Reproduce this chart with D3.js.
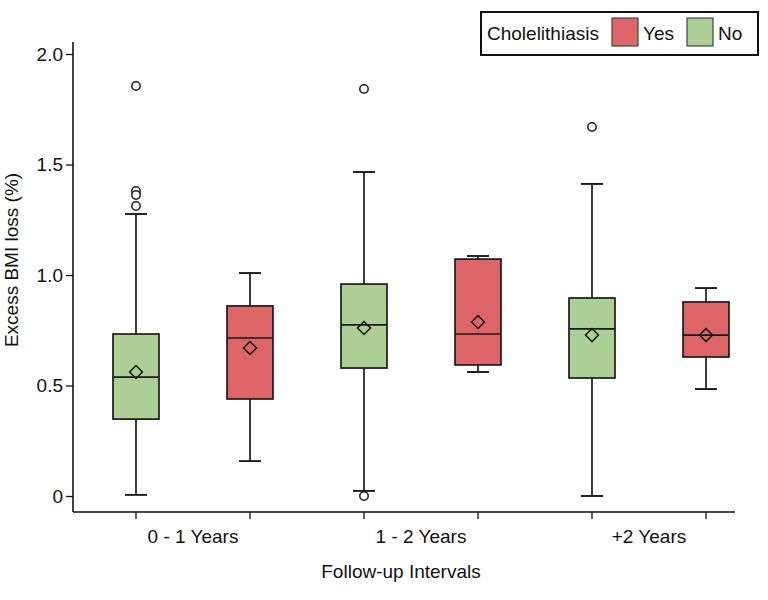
<!DOCTYPE html>
<html>
<head>
<meta charset="utf-8">
<script src="https://cdn.jsdelivr.net/npm/d3@7"></script>
<style>
  body { margin: 0; background: #fff; }
  text { font-family: "Liberation Sans", Arial, sans-serif; fill: #111; }
</style>
</head>
<body>
<div id="chart"></div>
<script>
// follow-up groups and cholelithiasis status (No drawn first)
const groups = ['0 - 1 Years', '1 - 2 Years', '+2 Years'];
const statuses = ['No', 'Yes'];
const legendOrder = ['Yes', 'No'];

// box stats, one entry per group, order of groups above
const noLow = [0.005, 0.023, 0.0];
const noQ1 = [0.348, 0.579, 0.534];
const noMedian = [0.538, 0.774, 0.756];
const noQ3 = [0.733, 0.959, 0.896];
const noHigh = [1.276, 1.466, 1.412];
const noMean = [0.561, 0.760, 0.728];
const noOutliers = [[1.855, 1.380, 1.362, 1.312], [1.842, 0.0], [1.670]];

const yesLow = [0.158, 0.561, 0.484];
const yesQ1 = [0.439, 0.593, 0.629];
const yesMedian = [0.715, 0.733, 0.728];
const yesQ3 = [0.860, 1.072, 0.878];
const yesHigh = [1.009, 1.086, 0.941];
const yesMean = [0.670, 0.787, 0.728];
const yesOutliers = [[], [], []];

const yTicks = [0, 0.5, 1.0, 1.5, 2.0];

// build boxes table from the arrays
const boxes = [];
groups.forEach((g, i) => {
    boxes.push({ group: g, status: 'No', low: noLow[i], q1: noQ1[i], median: noMedian[i], q3: noQ3[i], high: noHigh[i], mean: noMean[i], outliers: noOutliers[i] });
    boxes.push({ group: g, status: 'Yes', low: yesLow[i], q1: yesQ1[i], median: yesMedian[i], q3: yesQ3[i], high: yesHigh[i], mean: yesMean[i], outliers: yesOutliers[i] });
});

const width = 768, height = 600;
const plot = { left: 73, right: 735, top: 42, bottom: 512 };
const colors = { Yes: '#de6567', No: '#abcf95' };
const boxWidth = 46, capWidth = 22;
const fontSize = '19px';

const svg = d3.select('#chart').append('svg')
    .attr('width', width)
    .attr('height', height);

const x = d3.scaleBand().domain(groups).range([79, 763]);
const xSub = d3.scaleBand().domain(statuses).range([0, x.bandwidth()]);
const y = d3.scaleLinear().domain([0, 2]).range([496, 54]);

const cx = d => x(d.group) + xSub(d.status) + xSub.bandwidth() / 2;

// axes
svg.append('line')
    .attr('x1', plot.left).attr('x2', plot.left)
    .attr('y1', plot.top).attr('y2', plot.bottom)
    .attr('stroke', '#111').attr('stroke-width', 1.6);
svg.append('line')
    .attr('x1', plot.left).attr('x2', plot.right)
    .attr('y1', plot.bottom).attr('y2', plot.bottom)
    .attr('stroke', '#111').attr('stroke-width', 1.6);

const yAxis = svg.append('g')
    .attr('transform', `translate(${plot.left},0)`)
    .call(d3.axisLeft(y).tickValues(yTicks).tickSize(7).tickPadding(3)
        .tickFormat(d => d === 0 ? '0' : d3.format('.1f')(d)));
yAxis.select('.domain').remove();
yAxis.selectAll('line').attr('stroke', '#111').attr('stroke-width', 1.3);
yAxis.selectAll('text').style('font-size', fontSize).attr('fill', '#111')
    .style('font-family', '"Liberation Sans", Arial, sans-serif');

// bottom ticks at every box centre
svg.append('g').selectAll('line')
    .data(boxes)
    .join('line')
    .attr('x1', cx).attr('x2', cx)
    .attr('y1', plot.bottom).attr('y2', plot.bottom + 7)
    .attr('stroke', '#111').attr('stroke-width', 1.3);

svg.append('g').selectAll('text')
    .data(groups)
    .join('text')
    .attr('x', d => x(d) + x.bandwidth() / 2)
    .attr('y', 543)
    .attr('text-anchor', 'middle')
    .style('font-size', fontSize)
    .text(d => d);

svg.append('text')
    .attr('x', 401)
    .attr('y', 578)
    .attr('text-anchor', 'middle')
    .style('font-size', fontSize)
    .text('Follow-up Intervals');

svg.append('text')
    .attr('transform', 'translate(18,260) rotate(-90)')
    .attr('text-anchor', 'middle')
    .style('font-size', fontSize)
    .text('Excess BMI loss (%)');

// boxes
const b = svg.append('g').selectAll('g')
    .data(boxes)
    .join('g');

b.append('line')
    .attr('x1', cx).attr('x2', cx)
    .attr('y1', d => y(d.low)).attr('y2', d => y(d.high))
    .attr('stroke', '#1a1a1a').attr('stroke-width', 1.7);

b.selectAll('.cap')
    .data(d => [d.low, d.high].map(v => ({ v, c: cx(d) })))
    .join('line')
    .attr('class', 'cap')
    .attr('x1', d => d.c - capWidth / 2).attr('x2', d => d.c + capWidth / 2)
    .attr('y1', d => y(d.v)).attr('y2', d => y(d.v))
    .attr('stroke', '#1a1a1a').attr('stroke-width', 1.9);

b.append('rect')
    .attr('x', d => cx(d) - boxWidth / 2)
    .attr('width', boxWidth)
    .attr('y', d => y(d.q3))
    .attr('height', d => y(d.q1) - y(d.q3))
    .attr('fill', d => colors[d.status])
    .attr('stroke', '#1a1a1a').attr('stroke-width', 1.7);

b.append('line')
    .attr('x1', d => cx(d) - boxWidth / 2).attr('x2', d => cx(d) + boxWidth / 2)
    .attr('y1', d => y(d.median)).attr('y2', d => y(d.median))
    .attr('stroke', '#1a1a1a').attr('stroke-width', 1.7);

b.append('path')
    .attr('d', d3.symbol(d3.symbolSquare, 84))
    .attr('transform', d => `translate(${cx(d)},${y(d.mean)}) rotate(45)`)
    .attr('fill', 'none')
    .attr('stroke', '#1a1a1a').attr('stroke-width', 1.5);

b.selectAll('.outlier')
    .data(d => d.outliers.map(v => ({ v, c: cx(d) })))
    .join('circle')
    .attr('class', 'outlier')
    .attr('cx', d => d.c)
    .attr('cy', d => y(d.v))
    .attr('r', 4.2)
    .attr('fill', '#fff')
    .attr('stroke', '#1a1a1a').attr('stroke-width', 1.5);

// legend
const legend = svg.append('g').attr('transform', 'translate(481,12)');
legend.append('rect')
    .attr('width', 277).attr('height', 43)
    .attr('fill', '#fff')
    .attr('stroke', '#111').attr('stroke-width', 2);
legend.append('text')
    .attr('x', 6).attr('y', 28)
    .style('font-size', fontSize)
    .text('Cholelithiasis');
const legendX = { Yes: 131, No: 206 };
const li = legend.selectAll('.li')
    .data(legendOrder)
    .join('g')
    .attr('class', 'li')
    .attr('transform', d => `translate(${legendX[d]},6)`);
li.append('rect')
    .attr('width', 26).attr('height', 28)
    .attr('fill', d => colors[d])
    .attr('stroke', '#444').attr('stroke-width', 1.2);
li.append('text')
    .attr('x', 31).attr('y', 22)
    .style('font-size', fontSize)
    .text(d => d);
</script>
</body>
</html>
